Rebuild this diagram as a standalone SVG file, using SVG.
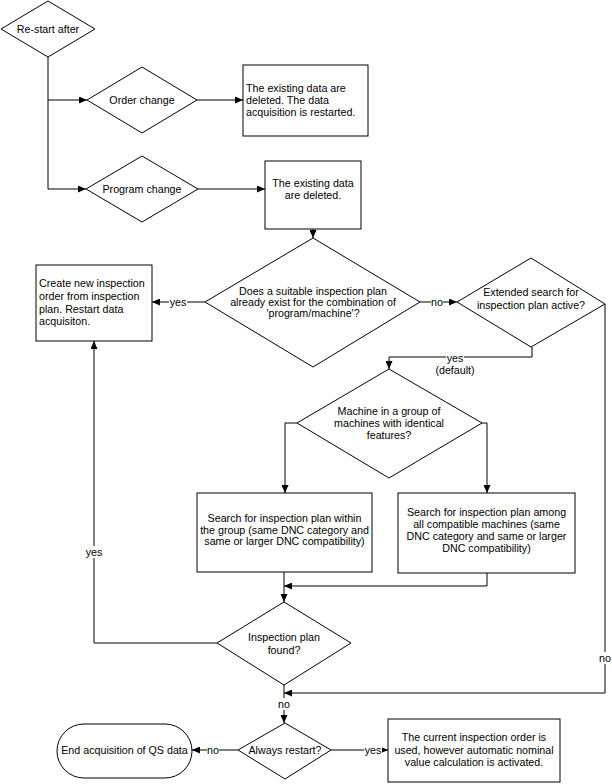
<svg xmlns="http://www.w3.org/2000/svg" width="612" height="784" viewBox="0 0 612 784">
<style>
.s{fill:#fff;stroke:#000;stroke-width:1}
.c{fill:none;stroke:#000;stroke-width:1}
text{font-family:"Liberation Sans",Arial,sans-serif;font-size:10.7px;fill:#000}
.m{text-anchor:middle}
.lb{fill:#fff;stroke:none}
</style>
<defs>
<marker id="a" markerUnits="userSpaceOnUse" markerWidth="8" markerHeight="7" refX="8" refY="3.5" orient="auto">
<path d="M0,0 L8,3.5 L0,7 z" fill="#000"/>
</marker>
</defs>
<rect width="612" height="784" fill="#fff"/>
<g id="connectors">
<path class="c" d="M48,57 V189"/>
<path class="c" d="M48,100 H87" marker-end="url(#a)"/>
<path class="c" d="M48,189 H86" marker-end="url(#a)"/>
<path class="c" d="M197,100 H243" marker-end="url(#a)"/>
<path class="c" d="M198,189 H265" marker-end="url(#a)"/>
<path class="c" d="M313,229 V238" marker-end="url(#a)"/>
<path class="c" d="M205,302 H152" marker-end="url(#a)"/>
<path class="c" d="M420,302 H457" marker-end="url(#a)"/>
<path class="c" d="M532,347 V357 H389 V369" marker-end="url(#a)"/>
<path class="c" d="M605,304 V693 H284" marker-end="url(#a)"/>
<path class="c" d="M297,423 H285 V493" marker-end="url(#a)"/>
<path class="c" d="M482,423 H487 V493" marker-end="url(#a)"/>
<path class="c" d="M284,572 V602" marker-end="url(#a)"/>
<path class="c" d="M487,573 V586 H284" marker-end="url(#a)"/>
<path class="c" d="M217,643 H94 V341" marker-end="url(#a)"/>
<path class="c" d="M284,685 V723" marker-end="url(#a)"/>
<path class="c" d="M238,750 H192" marker-end="url(#a)"/>
<path class="c" d="M331,750 H388" marker-end="url(#a)"/>
<g id="labels">
<rect class="lb" x="169" y="296" width="18" height="12"/>
<text class="m" x="178" y="306">yes</text>
<rect class="lb" x="431" y="296" width="12" height="12"/>
<text class="m" x="437" y="306">no</text>
<rect class="lb" x="446" y="352" width="18" height="12"/>
<text class="m" x="455" y="362">yes</text>
<text class="m" x="455" y="374">(default)</text>
<rect class="lb" x="599" y="652" width="12" height="12"/>
<text class="m" x="605" y="662">no</text>
<rect class="lb" x="85" y="546" width="18" height="12"/>
<text class="m" x="94" y="556">yes</text>
<rect class="lb" x="278" y="698" width="12" height="12"/>
<text class="m" x="284" y="708">no</text>
<rect class="lb" x="207" y="744" width="12" height="12"/>
<text class="m" x="213" y="754">no</text>
<rect class="lb" x="364" y="744" width="18" height="12"/>
<text class="m" x="373" y="754">yes</text>
</g>
</g>
<g id="restart">
<polygon class="s" points="48,1 95,29 48,57 1,29"/>
<text class="m" x="48" y="33">Re-start after</text>
</g>
<g id="order-change">
<polygon class="s" points="142,67 197,100 142,133 87,100"/>
<text class="m" x="142" y="104">Order change</text>
</g>
<g id="program-change">
<polygon class="s" points="142,156 198,189 142,222 86,189"/>
<text class="m" x="142" y="193">Program change</text>
</g>
<g id="box-order">
<rect class="s" x="243" y="65" width="125" height="71"/>
<text x="246" y="92">The existing data are</text>
<text x="246" y="104">deleted. The data</text>
<text x="246" y="116">acquisition is restarted.</text>
</g>
<g id="box-program">
<rect class="s" x="265" y="161" width="96" height="68"/>
<text class="m" x="313" y="187">The existing data</text>
<text class="m" x="313" y="198.5">are deleted.</text>
</g>
<g id="plan-exists">
<polygon class="s" points="313,238 420,302 313,367 205,302"/>
<text class="m" x="313" y="295">Does a suitable inspection plan</text>
<text class="m" x="313" y="306">already exist for the combination of</text>
<text class="m" x="313" y="317">'program/machine'?</text>
</g>
<g id="create-order">
<rect class="s" x="36" y="265" width="116" height="76"/>
<text x="39" y="287">Create new inspection</text>
<text x="39" y="300">order from inspection</text>
<text x="39" y="312.5">plan. Restart data</text>
<text x="39" y="325">acquisiton.</text>
</g>
<g id="extended-search">
<polygon class="s" points="531,258 605,304 531,347 457,302"/>
<text class="m" x="531" y="296">Extended search for</text>
<text class="m" x="531" y="309">inspection plan active?</text>
</g>
<g id="machine-group">
<polygon class="s" points="389,369 482,423 389,478 297,423"/>
<text class="m" x="389" y="415">Machine in a group of</text>
<text class="m" x="389" y="427">machines with identical</text>
<text class="m" x="389" y="439">features?</text>
</g>
<g id="search-group">
<rect class="s" x="197" y="493" width="175" height="79"/>
<text class="m" x="284.5" y="522">Search for inspection plan within</text>
<text class="m" x="284.5" y="533.5">the group (same DNC category and</text>
<text class="m" x="284.5" y="545">same or larger DNC compatibility)</text>
</g>
<g id="search-all">
<rect class="s" x="398" y="493" width="177" height="80"/>
<text class="m" x="486.5" y="516">Search for inspection plan among</text>
<text class="m" x="486.5" y="528">all compatible machines (same</text>
<text class="m" x="486.5" y="540">DNC category and same or larger</text>
<text class="m" x="486.5" y="551.5">DNC compatibility)</text>
</g>
<g id="plan-found">
<polygon class="s" points="284,602 351,643 284,685 217,643"/>
<text class="m" x="284" y="641">Inspection plan</text>
<text class="m" x="284" y="654">found?</text>
</g>
<g id="always-restart">
<polygon class="s" points="285,723 331,750 285,779 238,750"/>
<text class="m" x="285" y="754">Always restart?</text>
</g>
<g id="end">
<rect class="s" x="57" y="724" width="135" height="54" rx="27" ry="27"/>
<text class="m" x="124.5" y="754">End acquisition of QS data</text>
</g>
<g id="current-order">
<rect class="s" x="388" y="719" width="172" height="63"/>
<text class="m" x="474" y="741">The current inspection order is</text>
<text class="m" x="474" y="754">used, however automatic nominal</text>
<text class="m" x="474" y="766">value calculation is activated.</text>
</g>
</svg>
